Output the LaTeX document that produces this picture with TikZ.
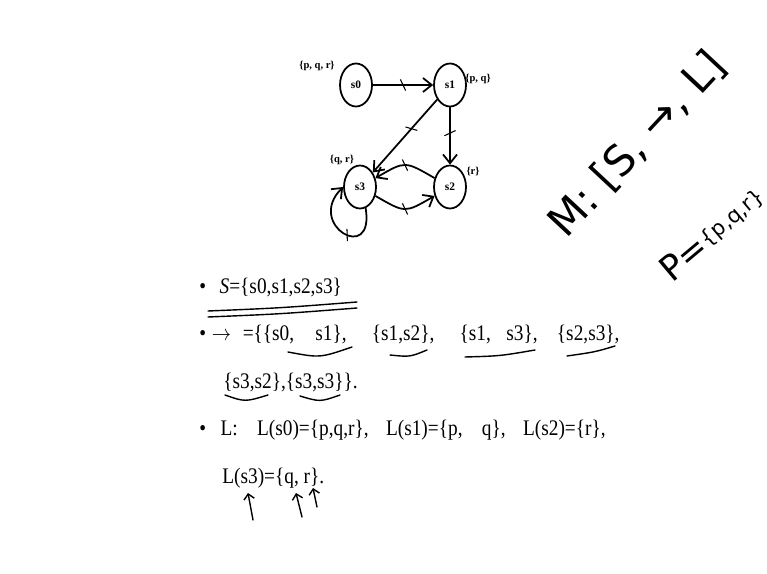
\documentclass[tikz,border=0pt]{standalone}
\usepackage{amsmath}
\usepackage{fontspec}
\setmainfont{Liberation Serif}
\newfontfamily\handfont{DejaVu Sans}
\usetikzlibrary{arrows.meta}
\usetikzlibrary{shapes.geometric}

\begin{document}
\begin{tikzpicture}[x=0.02cm, y=0.02cm,
    state/.style={ellipse, draw, line width=1pt, minimum width=0.64cm, minimum height=0.86cm, inner sep=0pt, font=\fontsize{6.5}{7}\selectfont\bfseries},
    prop/.style={inner sep=1pt, font=\fontsize{6}{7}\selectfont\bfseries},
    trans/.style={->, >={Straight Barb[length=5pt,width=8pt]}, line width=1pt},
    tick/.style={sloped, draw, line width=0.6pt, minimum width=0pt, minimum height=7pt, inner sep=0pt, rotate=25},
    txt/.style={anchor=base west, inner sep=0pt, yscale=1.15, transform shape, font=\fontsize{11}{13}\selectfont},
    pen/.style={line width=0.8pt, line cap=round},
    hand/.style={anchor=base west, inner sep=0pt, font=\handfont}]
  \useasboundingbox (0,0) rectangle (767,-574);

  % Zustaende
  \node[state] (s0) at (356,-85) {s0};
  \node[state] (s1) at (450,-85) {s1};
  \node[state] (s2) at (450,-187) {s2};
  \node[state] (s3) at (360,-187) {s3};

  % Markierungen
  \node[prop] (l0) at (317,-66) {\{p, q, r\}};
  \node[prop] (l1) at (478,-79) {\{p, q\}};
  \node[prop] (l3) at (342,-160) {\{q, r\}};
  \node[prop] (l2) at (473,-172) {\{r\}};

  % Uebergaenge
  \draw[trans] (s0) -- node[tick]{} (s1);
  \draw[trans] (s1) -- node[tick, pos=.45]{} (s2);
  \draw[trans] (s1) -- node[tick, pos=.4]{} (s3);
  \draw[trans] (s2) to[out=150, in=30, looseness=1.5] node[tick]{} (s3);
  \draw[trans] (s3) to[out=-30, in=-150, looseness=1.5] node[tick]{} (s2);
  \draw[trans] (s3.-75) .. controls (375,-265) and (305,-225) .. node[tick, pos=.45]{} (s3.west);

  % Text
  \node[txt] (setS) at (199,-293) {\textbullet\hspace{0.7em}\textit{S}=\{s0,s1,s2,s3\}};
  \node[txt] (rel) at (199,-340) {\textbullet\hspace{0.3em}$\rightarrow$\hspace{0.6em}=\{\{s0,\hspace{1.1em}s1\},\hspace{1.3em}\{s1,s2\},\hspace{1.3em}\{s1,\hspace{0.8em}s3\},\hspace{1em}\{s2,s3\},};
  \node[txt] (relb) at (223,-388) {\{s3,s2\},\{s3,s3\}\}.};
  \node[txt] (lab) at (199,-435) {\textbullet\hspace{0.75em}L:\hspace{1em}L(s0)=\{p,q,r\},\hspace{0.9em}L(s1)=\{p,\hspace{1em}q\},\hspace{0.9em}L(s2)=\{r\},};
  \node[txt] (labb) at (222,-483) {L(s3)=\{q, r\}.};

  % Unterstreichungen
  \draw[pen] (208,-311) .. controls (280,-308) .. (357,-302);
  \draw[pen] (208,-317) .. controls (280,-314) .. (357,-308);
  \draw[pen] (288,-352) .. controls (320,-358) .. (352,-347);
  \draw[pen] (390,-355) .. controls (410,-357) .. (427,-350);
  \draw[pen] (465,-357) .. controls (500,-356) .. (535,-350);
  \draw[pen] (567,-356) .. controls (595,-352) .. (615,-346);
  \draw[pen] (225,-395) .. controls (245,-402) .. (268,-395);
  \draw[pen] (300,-396) .. controls (320,-402) .. (340,-395);

  % Pfeile unter L(s3)
  \draw[pen, ->, >={Straight Barb[length=3pt]}] (253,-520) -- (248,-493);
  \draw[pen, ->, >={Straight Barb[length=3pt]}] (302,-517) -- (296,-493);
  \draw[pen, ->, >={Straight Barb[length=3pt]}] (317,-507) -- (313,-488);

  % Notizen
  \node[hand, rotate=47, font=\handfont\fontsize{24}{28}\selectfont] (model) at (566,-240) {M: [S, →, L]};
  \node[hand, rotate=40, font=\handfont\fontsize{20}{24}\selectfont] (props) at (672,-284) {P=\raisebox{3pt}{\fontsize{12}{14}\selectfont\{p,q,r\}}};
\end{tikzpicture}
\end{document}
